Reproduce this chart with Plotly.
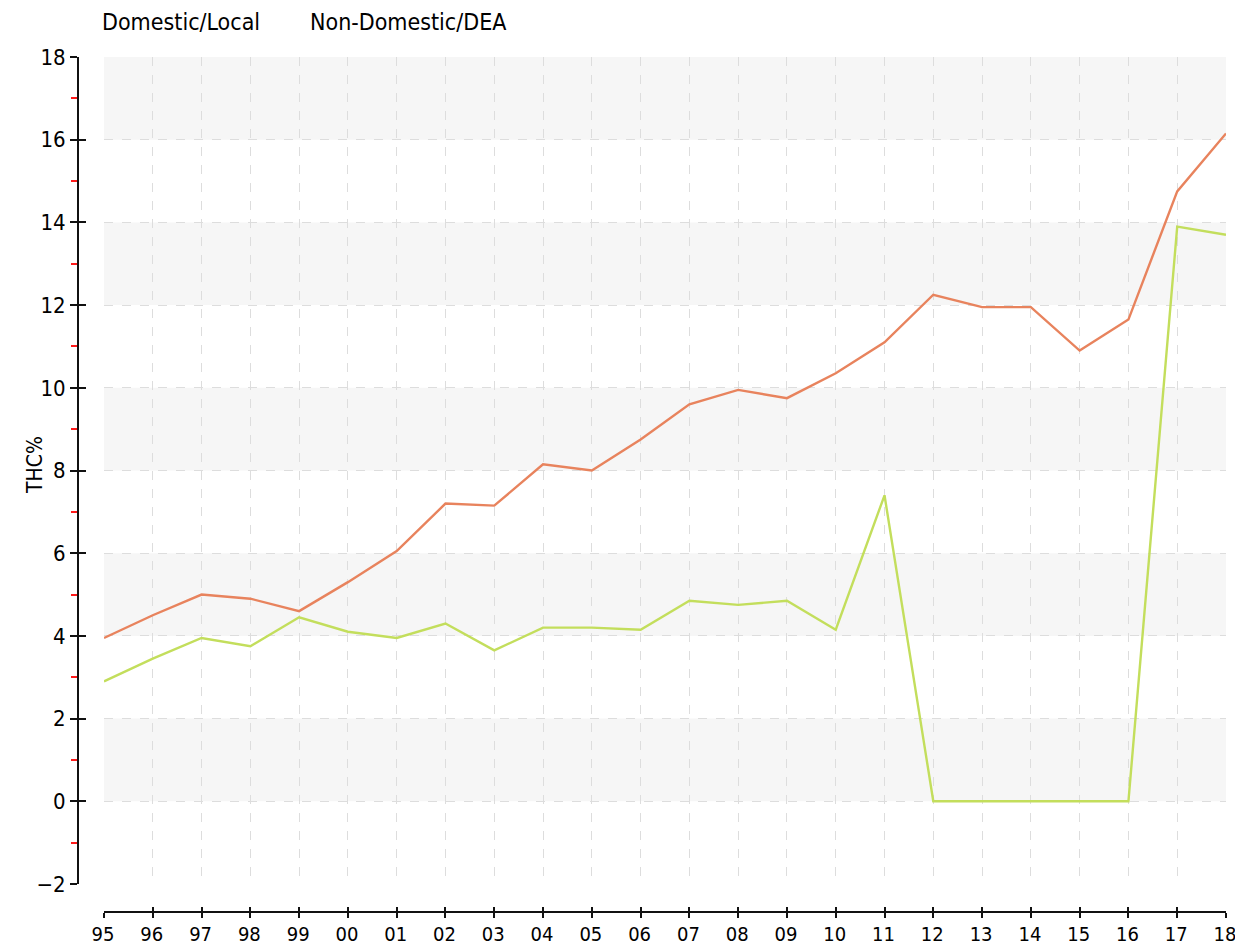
import plotly.graph_objects as go

years = ["95", "96", "97", "98", "99", "00", "01", "02", "03", "04", "05", "06",
         "07", "08", "09", "10", "11", "12", "13", "14", "15", "16", "17", "18"]
domestic_local = [3.95, 4.5, 5.0, 4.9, 4.6, 5.3, 6.05, 7.2, 7.15, 8.15, 8.0, 8.75,
                  9.6, 9.95, 9.75, 10.35, 11.1, 12.25, 11.95, 11.95, 10.9, 11.65, 14.75, 16.15]
non_domestic_dea = [2.9, 3.45, 3.95, 3.75, 4.45, 4.1, 3.95, 4.3, 3.65, 4.2, 4.2, 4.15,
                    4.85, 4.75, 4.85, 4.15, 7.4, 0, 0, 0, 0, 0, 13.9, 13.7]
y_ticks = [-2, 0, 2, 4, 6, 8, 10, 12, 14, 16, 18]
series_names = ["Domestic/Local", "Non-Domestic/DEA"]
series_colors = ["#E8835D", "#C3DE5C"]

W, H = 1235, 947
def px(x):
    return x / W
def py(y):
    return 1 - y / H

FONT = "Liberation Sans Narrow, DejaVu Sans Condensed, DejaVu Sans, sans-serif"
xi = list(range(len(years)))

fig = go.Figure()
for name, vals, col in zip(series_names, [domestic_local, non_domestic_dea], series_colors):
    fig.add_trace(go.Scatter(x=xi, y=vals, mode="lines", name=name,
                             line=dict(color=col, width=2.4), showlegend=False))

# alternating bands
for lo in y_ticks[1:-1:2]:
    fig.add_shape(type="rect", xref="x", yref="y", x0=0, x1=len(years) - 1,
                  y0=lo, y1=lo + 2, fillcolor="#f6f6f6", line_width=0, layer="below")

xdom = [px(104), px(1226)]
ydom = [py(884), py(57)]
ytickfont = dict(family=FONT, size=22, color="#000")
xtickfont = dict(family=FONT, size=20, color="#000")

fig.update_layout(
    width=W, height=H,
    margin=dict(l=0, r=0, t=0, b=0, autoexpand=False),
    showlegend=False,
    paper_bgcolor="white", plot_bgcolor="white",
    font=dict(family=FONT, color="#000"),
    xaxis=dict(domain=xdom, anchor="free", position=py(912), automargin=False,
               range=[0, len(years) - 1], tickvals=xi, ticktext=years,
               showline=True, linecolor="#111", linewidth=2,
               ticks="outside", ticklen=5, tickwidth=2, tickcolor="#111",
               ticklabelstandoff=-1, ticklabelshift=-1, ticklabeloverflow="allow",
               tickfont=xtickfont, showgrid=True, gridcolor="#dddddd",
               griddash="dash", gridwidth=1, zeroline=False),
    xaxis2=dict(domain=xdom, anchor="free", position=py(912), overlaying="x",
                automargin=False,
                range=[0, len(years) - 1], tickvals=xi, showticklabels=False,
                ticks="inside", ticklen=5, tickwidth=2, tickcolor="#111",
                showgrid=False, zeroline=False, showline=False),
    yaxis=dict(domain=ydom, anchor="free", position=px(78), automargin=False,
               range=[-2, 18], tickvals=y_ticks, ticklabeloverflow="allow",
               showline=True, linecolor="#111", linewidth=2,
               ticks="outside", ticklen=7, tickwidth=2, tickcolor="#111",
               tickfont=ytickfont, showgrid=True, gridcolor="#dddddd",
               griddash="dash", gridwidth=1, zeroline=False,
               minor=dict(tick0=1, dtick=2, ticks="outside", ticklen=6,
                          tickwidth=2, tickcolor="#ff1a1a", showgrid=False)),
    yaxis2=dict(domain=ydom, anchor="free", position=px(78), overlaying="y",
                automargin=False,
                range=[-2, 18], tickvals=y_ticks, showticklabels=False,
                ticks="inside", ticklen=7, tickwidth=2, tickcolor="#111",
                showgrid=False, zeroline=False, showline=False),
)

# invisible trace to activate overlay axes
fig.add_trace(go.Scatter(x=[None], y=[None], xaxis="x2", yaxis="y2",
                         showlegend=False, hoverinfo="skip"))

# y-axis title
fig.add_annotation(text="THC%", xref="paper", yref="paper", x=px(35), y=py(465),
                   xanchor="center", yanchor="middle", textangle=-90, showarrow=False,
                   font=dict(family=FONT, size=21, color="#000"))

# legend text
for name, xpos in zip(series_names, [100, 308]):
    fig.add_annotation(text=name, xref="paper", yref="paper",
                       x=px(xpos), y=py(22), xanchor="left", yanchor="middle",
                       showarrow=False, font=dict(family=FONT, size=23, color="#000"))

fig.write_html("out.html", config={"displayModeBar": False},
               post_script="document.body.style.margin='0';document.body.style.overflow='hidden';")
